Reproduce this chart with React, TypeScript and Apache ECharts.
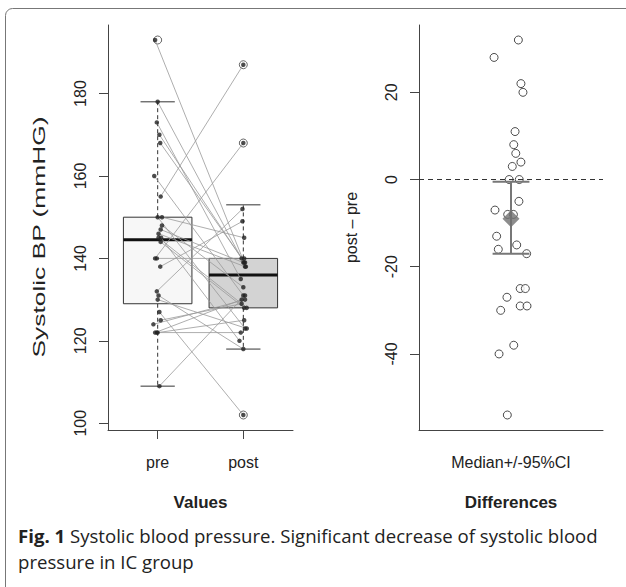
import React, { useEffect, useRef } from 'react';
import * as echarts from 'echarts';

// ---------------- data ----------------
const groupLabels = ['pre', 'post'];
// [min (whisker), Q1, median, Q3, max (whisker)]
const boxStats = [
  [109, 129, 144.5, 150, 178],
  [118, 128, 136, 140, 153],
];
const boxFills = ['#f7f7f7', '#d3d3d3'];
const outliersPre = [193];
const outliersPost = [187, 168, 102];

const preValues = [193, 178, 173, 170, 168, 160, 155, 150, 150, 148, 147, 146, 145, 145, 144, 140, 140, 138, 132, 131, 130, 127, 125, 124, 122, 122, 122, 109];
const postValues = [139, 138, 135, 140, 139, 131, 187, 123, 145, 133, 139, 138, 128, 120, 128, 168, 140, 149, 152, 118, 123, 102, 129, 130, 130, 122, 125, 131];
const preJitter = [-0.03, 0, -0.01, 0.02, 0.03, -0.04, 0.035, 0, 0.05, 0.05, 0.035, 0.01, 0.01, 0.04, 0.035, -0.03, -0.01, 0.03, -0.01, 0.01, 0, 0.02, 0.035, -0.05, -0.03, -0.01, 0, 0.02];
const postJitter = [0.01, 0.03, -0.03, -0.02, 0.02, 0, 0, 0.02, 0.01, 0, 0, 0.02, 0.04, -0.045, 0.01, 0, 0.01, -0.01, -0.01, 0, 0.04, 0, -0.02, 0.02, -0.02, -0.03, 0.01, 0.02];

const diffLabel = 'Median+/-95%CI';
const diffValues = [32, 28, 22, 20, 11, 8, 6, 4, 3, 0, 0, -5, -7, -8, -8, -13, -15, -16, -17, -25, -25, -27, -29, -29, -30, -38, -40, -54];
const diffJitter = [0.04, -0.092, 0.054, 0.065, 0.022, 0.015, 0.026, 0.054, 0.007, -0.01, 0.045, 0.043, -0.087, -0.018, 0.013, -0.078, 0.031, -0.069, 0.085, 0.05, 0.078, -0.022, 0.05, 0.087, -0.056, 0.015, -0.065, -0.02];
const diffMedian = -9;
const diffCI = [-17, -0.5];

const leftTicks = [100, 120, 140, 160, 180];
const rightTicks = [-40, -20, 0, 20];

const leftYTitle = 'Systolic BP (mmHG)';
const rightYTitle = 'post – pre';
const leftXTitle = 'Values';
const rightXTitle = 'Differences';
const caption = '{b|Fig. 1} Systolic blood pressure. Significant decrease of systolic blood\npressure in IC group';

// ---------------- chart ----------------
const FONT = '"Liberation Sans", Arial, sans-serif';
const CAPFONT = '"Open Sans", "Noto Sans", sans-serif';
const TXT = '#222';
const AX = '#444';

export default function App() {
  const ref = useRef<HTMLDivElement>(null);

  useEffect(() => {
    if (!ref.current) return;
    const chart = echarts.init(ref.current, undefined, { renderer: 'svg' });

    const axisLine = { show: true, onZero: false, lineStyle: { color: AX, width: 1 } };
    const nameStyle = { fontWeight: 'bold', fontSize: 17, color: TXT, fontFamily: FONT };

    const option: any = {
      animation: false,
      backgroundColor: '#ffffff',
      grid: [
        { left: 108, top: 25, width: 185, height: 405 },
        { left: 419, top: 25, width: 184, height: 405 },
      ],
      xAxis: [
        {
          gridIndex: 0, type: 'value', min: 0.42, max: 2.58,
          axisLine,
          axisTick: { show: true, length: 9, customValues: [1, 2], lineStyle: { color: AX } },
          axisLabel: {
            customValues: [1, 2], formatter: (v: number) => groupLabels[Math.round(v) - 1],
            margin: 24, fontSize: 16, color: TXT, fontFamily: FONT,
          },
          splitLine: { show: false },
          name: leftXTitle, nameLocation: 'middle', nameGap: 64, nameTextStyle: nameStyle,
        },
        {
          gridIndex: 1, type: 'value', min: 0.5, max: 1.5,
          axisLine,
          axisTick: { show: false },
          axisLabel: {
            customValues: [1], formatter: () => diffLabel,
            margin: 24, fontSize: 16, color: TXT, fontFamily: FONT,
          },
          splitLine: { show: false },
          name: rightXTitle, nameLocation: 'middle', nameGap: 64, nameTextStyle: nameStyle,
        },
      ],
      yAxis: [
        {
          gridIndex: 0, type: 'value', min: 98.36, max: 196.64,
          axisLine,
          axisTick: { show: true, length: 9, customValues: leftTicks, lineStyle: { color: AX } },
          axisLabel: { customValues: leftTicks, rotate: 90, margin: 20, fontSize: 16, color: TXT, fontFamily: FONT },
          splitLine: { show: false },
        },
        {
          gridIndex: 1, type: 'value', min: -57.44, max: 35.44,
          axisLine,
          axisTick: { show: true, length: 9, customValues: rightTicks, lineStyle: { color: AX } },
          axisLabel: { customValues: rightTicks, rotate: 90, margin: 20, fontSize: 16, color: TXT, fontFamily: FONT },
          splitLine: { show: false },
          name: rightYTitle, nameLocation: 'middle', nameGap: 60, nameRotate: 90,
          nameTextStyle: { fontSize: 16, color: TXT, fontFamily: FONT },
        },
      ],
      series: [
        // boxes
        {
          type: 'custom', xAxisIndex: 0, yAxisIndex: 0, z: 1,
          data: boxStats.map((s, i) => [i + 1, ...s]),
          encode: { x: 0, y: [1, 2, 3, 4, 5] },
          renderItem: (params: any, api: any) => {
            const x = api.value(0);
            const mn = api.value(1), q1 = api.value(2), md = api.value(3), q3 = api.value(4), mx = api.value(5);
            const c = (a: number, b: number) => api.coord([a, b]);
            const half = 0.4, cap = 0.2;
            const tl = c(x - half, q3), br = c(x + half, q1);
            const ln = (p1: number[], p2: number[], style: any) => ({
              type: 'line', shape: { x1: p1[0], y1: p1[1], x2: p2[0], y2: p2[1] }, style,
            });
            const solid = { stroke: '#333', lineWidth: 1 };
            const dashed = { stroke: '#333', lineWidth: 1, lineDash: [4, 3] };
            return {
              type: 'group',
              children: [
                ln(c(x, q3), c(x, mx), dashed),
                ln(c(x, q1), c(x, mn), dashed),
                ln(c(x - cap, mx), c(x + cap, mx), solid),
                ln(c(x - cap, mn), c(x + cap, mn), solid),
                {
                  type: 'rect',
                  shape: { x: tl[0], y: tl[1], width: br[0] - tl[0], height: br[1] - tl[1] },
                  style: { fill: boxFills[params.dataIndex], stroke: '#333', lineWidth: 1 },
                },
                ln(c(x - half, md), c(x + half, md), { stroke: '#111', lineWidth: 3 }),
              ],
            };
          },
        },
        // outliers
        {
          type: 'scatter', xAxisIndex: 0, yAxisIndex: 0, z: 2,
          data: [...outliersPre.map((v) => [1, v]), ...outliersPost.map((v) => [2, v])],
          symbol: 'circle', symbolSize: 8,
          itemStyle: { color: '#fff', borderColor: '#444', borderWidth: 1 },
        },
        // paired lines
        {
          type: 'custom', xAxisIndex: 0, yAxisIndex: 0, z: 3,
          data: preValues.map((v, i) => [1 + preJitter[i], v, 2 + postJitter[i], postValues[i]]),
          encode: { x: [0, 2], y: [1, 3] },
          renderItem: (params: any, api: any) => {
            const p1 = api.coord([api.value(0), api.value(1)]);
            const p2 = api.coord([api.value(2), api.value(3)]);
            return {
              type: 'line',
              shape: { x1: p1[0], y1: p1[1], x2: p2[0], y2: p2[1] },
              style: { stroke: '#999', lineWidth: 0.8 },
            };
          },
        },
        // dots
        {
          type: 'scatter', xAxisIndex: 0, yAxisIndex: 0, z: 4,
          data: [
            ...preValues.map((v, i) => [1 + preJitter[i], v]),
            ...postValues.map((v, i) => [2 + postJitter[i], v]),
          ],
          symbol: 'circle', symbolSize: 4.5,
          itemStyle: { color: '#222' },
        },
        // differences
        {
          type: 'scatter', xAxisIndex: 1, yAxisIndex: 1, z: 2,
          data: diffValues.map((v, i) => [1 + diffJitter[i], v]),
          symbol: 'circle', symbolSize: 8,
          itemStyle: { color: '#fff', borderColor: '#222', borderWidth: 1 },
          markLine: {
            silent: true, symbol: 'none', label: { show: false },
            lineStyle: { color: '#333', type: [5, 4], width: 1 },
            data: [{ yAxis: 0 }],
          },
        },
        // CI
        {
          type: 'custom', xAxisIndex: 1, yAxisIndex: 1, z: 3,
          data: [[1, diffCI[0], diffCI[1]]],
          encode: { x: 0, y: [1, 2] },
          renderItem: (params: any, api: any) => {
            const x = api.value(0), lo = api.value(1), hi = api.value(2);
            const c = (a: number, b: number) => api.coord([a, b]);
            const st = { stroke: '#777', lineWidth: 2 };
            const ln = (p1: number[], p2: number[]) => ({
              type: 'line', shape: { x1: p1[0], y1: p1[1], x2: p2[0], y2: p2[1] }, style: st,
            });
            return {
              type: 'group',
              children: [ln(c(x, lo), c(x, hi)), ln(c(x - 0.1, lo), c(x + 0.1, lo)), ln(c(x - 0.1, hi), c(x + 0.1, hi))],
            };
          },
        },
        // median
        {
          type: 'scatter', xAxisIndex: 1, yAxisIndex: 1, z: 4,
          data: [[1, diffMedian]],
          symbol: 'diamond', symbolSize: [17, 17],
          itemStyle: { color: '#707070' },
        },
      ],
      graphic: [
        {
          type: 'rect', silent: true, z: -1,
          shape: { x: 5.5, y: 8.5, width: 800, height: 800, r: 7 },
          style: { fill: 'none', stroke: '#777', lineWidth: 1 },
        },
        {
          type: 'text', x: 39, y: 237, rotation: Math.PI / 2, scaleX: 1.55, scaleY: 1,
          style: {
            text: leftYTitle, fontSize: 17, fontFamily: FONT, fill: TXT,
            align: 'center', verticalAlign: 'middle',
          },
        },
        {
          type: 'text', left: 18, top: 522,
          style: {
            text: caption,
            fontSize: 18.6, fontFamily: CAPFONT, fill: '#222', lineHeight: 26,
            rich: {
              b: { fontWeight: 'bold', fontSize: 18.6, fontFamily: CAPFONT, fill: '#222' },
            },
          },
        },
      ],
    };

    chart.setOption(option);
    return () => chart.dispose();
  }, []);

  return (
    <div
      ref={ref}
      style={{ position: 'fixed', left: 0, top: 0, width: 626, height: 587, background: '#fff' }}
    />
  );
}
